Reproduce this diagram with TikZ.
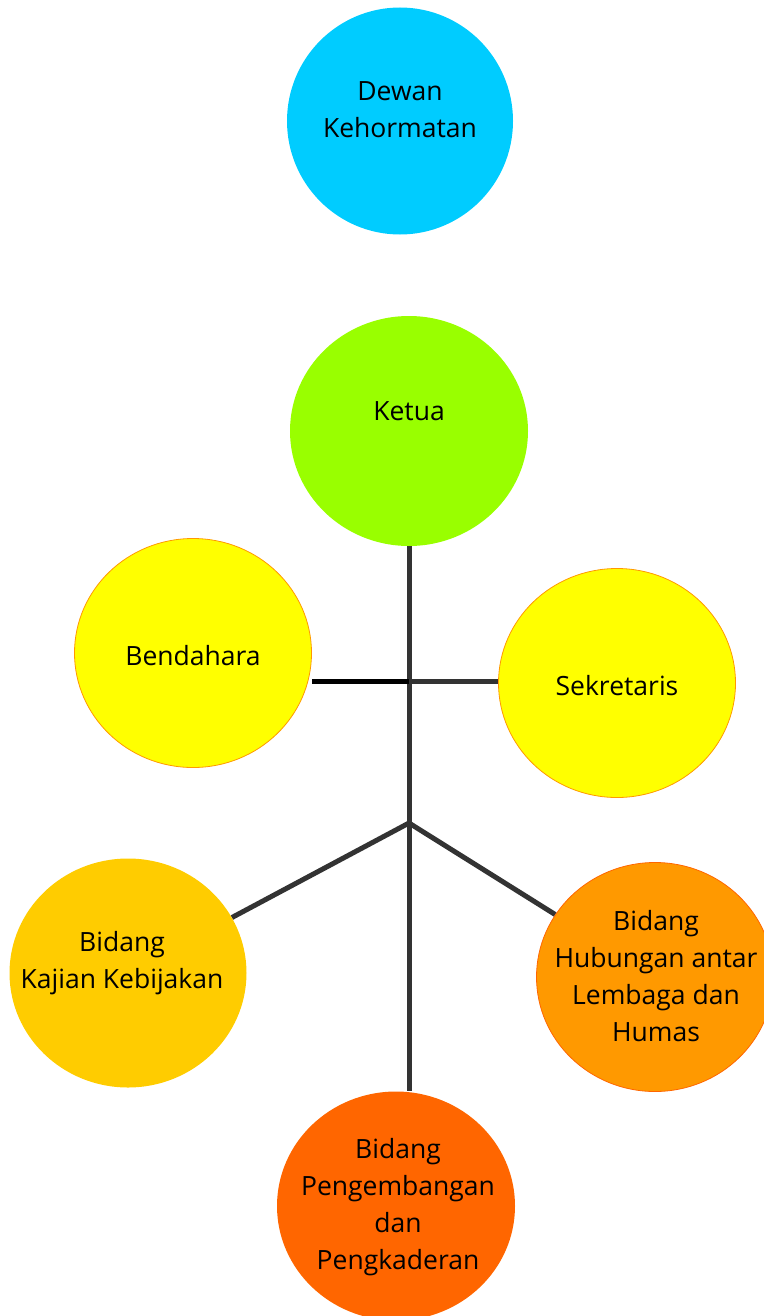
\documentclass[tikz,border=0pt]{standalone}
\usepackage{fontspec}
\setmainfont{Open Sans}
\usetikzlibrary{shapes.geometric,backgrounds}
\definecolor{cdewan}{HTML}{00CCFF}
\definecolor{cketua}{HTML}{99FF00}
\definecolor{cyel}{HTML}{FFFF00}
\definecolor{ckaj}{HTML}{FFCC00}
\definecolor{chub}{HTML}{FF9900}
\definecolor{cpeng}{HTML}{FF6600}
\definecolor{cline}{HTML}{333333}
\definecolor{cedge}{HTML}{FF9900}
\tikzset{
  bubble/.style={ellipse, minimum width=237pt, minimum height=229pt, inner sep=0pt},
  lbl/.style={align=center, font=\fontsize{26.5}{37}\selectfont, text=black},
  link/.style={draw=cline, line width=5pt},
}
\begin{document}
\begin{tikzpicture}[x=1pt,y=-1pt]
\useasboundingbox (0,0) rectangle (763,1316);
\node[bubble, fill=cdewan, minimum width=226pt, minimum height=227pt] (dewan) at (400,121) {};
\node[bubble, fill=cketua, minimum width=238pt, minimum height=230pt] (ketua) at (409,431) {};
\node[bubble, fill=cyel, draw=cedge, line width=0.8pt] (bend) at (193,653) {};
\node[bubble, fill=cyel, draw=cedge, line width=0.8pt] (sekr) at (617,683) {};
\node[bubble, fill=ckaj] (kaj) at (128,973) {};
\node[bubble, fill=chub, draw=cpeng, line width=0.8pt] (hub) at (655,977) {};
\node[bubble, fill=cpeng, minimum width=238pt] (peng) at (396,1206) {};
\node[lbl] (tdewan) at (400,110) {Dewan\\Kehormatan};
\node[lbl] (tketua) at (409,411) {Ketua};
\node[lbl] (tbend) at (193,656) {Bendahara};
\node[lbl] (tsekr) at (617,686) {Sekretaris};
\node[lbl] (tkaj) at (122,963) {Bidang\\Kajian Kebijakan};
\node[lbl] (thub) at (656,976) {Bidang\\Hubungan antar\\Lembaga dan\\Humas};
\node[lbl] (tpeng) at (398,1207) {Bidang\\Pengembangan\\dan\\Pengkaderan};
\coordinate (j1) at (409,681);
\coordinate (j2) at (409,823);
\begin{pgfonlayer}{background}
\draw[link] (ketua.south) -- (ketua.south |- peng.north);
\draw[draw=black, line width=5pt] (j1) -- (j1 -| bend.east);
\draw[link] (j1) -- (j1 -| sekr.west);
\draw[link] (j2) -- (kaj);
\draw[link] (j2) -- (hub);
\end{pgfonlayer}
\end{tikzpicture}
\end{document}
